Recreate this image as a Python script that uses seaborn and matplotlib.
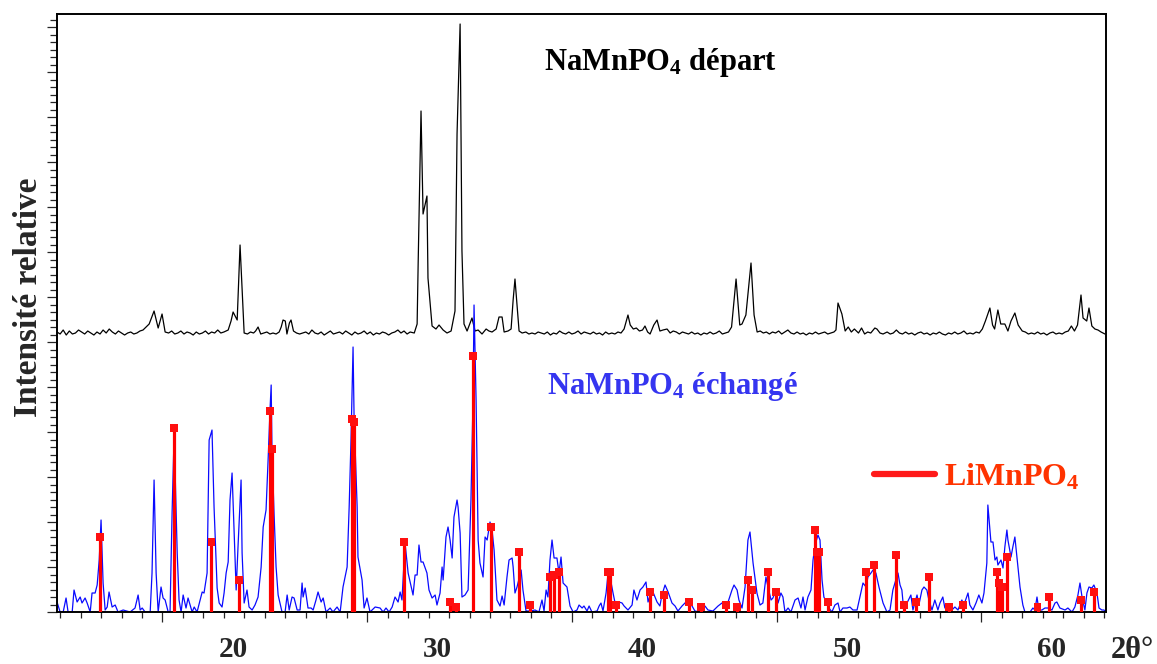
import matplotlib
matplotlib.use("Agg")
import matplotlib.pyplot as plt
from matplotlib.ticker import FixedLocator, MultipleLocator
from matplotlib.lines import Line2D
import numpy as np
import seaborn as sns

# NaMnPO4 départ (black trace), intensity above its own baseline
depart_2theta = [
    11.40, 11.55, 11.70, 11.85, 12.00, 12.15, 12.30, 12.45, 12.60, 12.75, 12.90, 13.05, 13.20, 13.35,
    13.50, 13.65, 13.80, 13.95, 14.10, 14.25, 14.40, 14.55, 14.70, 14.85, 15.00, 15.15, 15.30, 15.45,
    15.60, 15.75, 15.90, 16.14, 16.34, 16.53, 16.68, 16.85, 17.00, 17.15, 17.30, 17.45, 17.60, 17.75,
    17.90, 18.05, 18.20, 18.35, 18.50, 18.65, 18.80, 18.95, 19.10, 19.25, 19.40, 19.55, 19.76, 19.90,
    20.00, 20.20, 20.34, 20.54, 20.70, 20.85, 21.00, 21.10, 21.22, 21.35, 21.50, 21.65, 21.80, 21.95,
    22.10, 22.25, 22.35, 22.44, 22.55, 22.63, 22.75, 22.83, 22.95, 23.10, 23.25, 23.40, 23.55, 23.70,
    23.85, 24.00, 24.15, 24.30, 24.45, 24.60, 24.75, 24.90, 25.05, 25.20, 25.35, 25.50, 25.65, 25.80,
    25.95, 26.10, 26.25, 26.40, 26.55, 26.70, 26.85, 27.00, 27.15, 27.30, 27.45, 27.60, 27.75, 27.90,
    28.05, 28.20, 28.35, 28.50, 28.65, 28.85, 28.99, 29.04, 29.18, 29.28, 29.47, 29.52, 29.72, 29.91,
    30.06, 30.26, 30.45, 30.65, 30.84, 30.94, 31.09, 31.18, 31.28, 31.43, 31.67, 31.82, 31.97, 32.16,
    32.36, 32.50, 32.65, 32.85, 32.99, 33.14, 33.24, 33.43, 33.58, 33.68, 33.77, 33.87, 33.97, 34.12,
    34.30, 34.45, 34.60, 34.75, 34.90, 35.05, 35.20, 35.35, 35.50, 35.65, 35.80, 35.95, 36.10, 36.25,
    36.40, 36.55, 36.70, 36.85, 37.00, 37.15, 37.30, 37.45, 37.60, 37.75, 37.90, 38.05, 38.20, 38.35,
    38.50, 38.65, 38.80, 38.95, 39.10, 39.29, 39.40, 39.55, 39.70, 39.85, 40.00, 40.12, 40.25, 40.37,
    40.55, 40.71, 40.85, 41.00, 41.20, 41.35, 41.50, 41.65, 41.80, 41.95, 42.10, 42.25, 42.40, 42.55,
    42.70, 42.85, 43.00, 43.15, 43.30, 43.45, 43.60, 43.75, 43.90, 44.05, 44.20, 44.35, 44.57, 44.75,
    44.86, 45.05, 45.30, 45.45, 45.60, 45.75, 45.90, 46.05, 46.20, 46.35, 46.50, 46.65, 46.80, 46.95,
    47.10, 47.25, 47.40, 47.55, 47.70, 47.85, 48.00, 48.15, 48.30, 48.45, 48.60, 48.75, 48.90, 49.05,
    49.20, 49.35, 49.45, 49.55, 49.74, 49.90, 50.05, 50.20, 50.35, 50.55, 50.70, 50.85, 51.00, 51.15,
    51.35, 51.45, 51.60, 51.75, 51.95, 52.10, 52.25, 52.40, 52.55, 52.70, 52.85, 53.00, 53.15, 53.30,
    53.45, 53.60, 53.75, 53.90, 54.05, 54.20, 54.35, 54.50, 54.65, 54.80, 54.95, 55.10, 55.25, 55.40,
    55.55, 55.70, 55.85, 56.00, 56.15, 56.30, 56.45, 56.60, 56.75, 56.97, 57.10, 57.20, 57.36, 57.50,
    57.70, 57.85, 58.00, 58.19, 58.35, 58.55, 58.70, 58.85, 59.00, 59.15, 59.30, 59.45, 59.60, 59.75,
    59.90, 60.05, 60.20, 60.35, 60.50, 60.65, 60.80, 60.95, 61.10, 61.25, 61.42, 61.52, 61.70, 61.81,
    61.95, 62.10, 62.25, 62.40, 62.59,
]
depart_int = [
    3, 1, 5, 0, 4, 1, 2, 5, 3, 1, 4, 2, 0, 3,
    1, 5, 2, 6, 3, 1, 4, 2, 0, 2, 3, 1, 2, 4,
    5, 8, 11, 24, 7, 21, 3, 2, 4, 1, 2, 4, 1, 3,
    2, 0, 3, 1, 2, 4, 1, 3, 2, 5, 2, 3, 5, 14,
    23, 15, 90, 2, 1, 3, 2, 4, 8, 1, 2, 3, 1, 2,
    1, 3, 8, 15, 14, 1, 12, 15, 4, 2, 1, 2, 3, 1,
    5, 2, 1, 3, 0, 2, 4, 1, 2, 3, 1, 4, 2, 0,
    3, 1, 2, 4, 1, 3, 0, 2, 1, 3, 2, 0, 2, 3,
    5, 2, 4, 1, 3, 2, 11, 71, 224, 121, 139, 57, 9, 6,
    10, 5, 2, 4, 24, 201, 311, 84, 11, 4, 17, 4, 5, 1,
    6, 4, 3, 6, 18, 18, 3, 4, 6, 35, 56, 30, 4, 2,
    3, 1, 2, 1, 3, 2, 1, 3, 0, 2, 1, 4, 2, 1,
    3, 1, 2, 4, 1, 3, 2, 1, 3, 1, 2, 0, 3, 1,
    2, 1, 3, 2, 6, 20, 10, 6, 7, 4, 5, 9, 3, 1,
    10, 15, 4, 5, 6, 2, 4, 3, 1, 3, 2, 1, 3, 1,
    2, 0, 2, 1, 3, 1, 2, 4, 1, 2, 3, 8, 56, 10,
    11, 20, 72, 20, 3, 4, 2, 3, 1, 3, 2, 4, 1, 3,
    5, 2, 1, 3, 1, 2, 0, 2, 1, 3, 1, 2, 3, 1,
    2, 3, 5, 32, 21, 4, 8, 3, 6, 2, 7, 1, 3, 2,
    7, 6, 2, 1, 3, 1, 2, 5, 2, 1, 3, 1, 2, 0,
    2, 3, 1, 2, 0, 2, 1, 3, 1, 0, 2, 1, 3, 1,
    2, 4, 1, 2, 1, 3, 2, 6, 14, 27, 10, 6, 25, 11,
    11, 4, 14, 22, 10, 4, 3, 1, 2, 1, 3, 1, 2, 0,
    2, 3, 1, 2, 1, 3, 4, 9, 4, 10, 40, 17, 14, 27,
    9, 6, 5, 3, 1,
]
depart_offset = 277

# NaMnPO4 échangé (blue trace)
echange_2theta = [
    11.40, 11.55, 11.70, 11.84, 11.94, 12.14, 12.23, 12.38, 12.53, 12.62, 12.77, 12.87, 13.02, 13.11,
    13.26, 13.36, 13.46, 13.55, 13.65, 13.75, 13.85, 13.94, 14.09, 14.24, 14.38, 14.63, 14.97, 15.21,
    15.36, 15.46, 15.56, 15.70, 15.95, 16.04, 16.14, 16.24, 16.34, 16.48, 16.58, 16.68, 16.83, 16.92,
    17.02, 17.12, 17.22, 17.27, 17.36, 17.46, 17.56, 17.70, 17.80, 18.00, 18.10, 18.24, 18.49, 18.58,
    18.73, 18.83, 18.97, 19.07, 19.22, 19.32, 19.46, 19.56, 19.66, 19.76, 19.85, 19.95, 20.05, 20.15,
    20.24, 20.39, 20.44, 20.54, 20.68, 20.78, 20.93, 21.07, 21.22, 21.37, 21.47, 21.61, 21.71, 21.81,
    21.86, 21.90, 22.00, 22.10, 22.20, 22.39, 22.54, 22.64, 22.74, 22.88, 22.98, 23.13, 23.27, 23.37,
    23.42, 23.52, 23.66, 23.81, 23.91, 24.05, 24.15, 24.30, 24.40, 24.54, 24.74, 24.88, 25.08, 25.23,
    25.37, 25.57, 25.67, 25.76, 25.86, 25.91, 26.06, 26.10, 26.30, 26.40, 26.54, 26.69, 26.94, 27.18,
    27.33, 27.47, 27.62, 27.77, 27.91, 28.06, 28.16, 28.25, 28.40, 28.55, 28.79, 28.89, 28.99, 29.08,
    29.18, 29.28, 29.47, 29.57, 29.72, 29.87, 29.96, 30.11, 30.21, 30.26, 30.40, 30.50, 30.60, 30.70,
    30.79, 30.94, 30.99, 31.09, 31.18, 31.33, 31.48, 31.62, 31.72, 31.77, 31.87, 31.97, 32.06, 32.21,
    32.31, 32.41, 32.55, 32.65, 32.75, 32.89, 33.04, 33.14, 33.24, 33.38, 33.48, 33.63, 33.68, 33.77,
    33.87, 34.07, 34.16, 34.31, 34.51, 34.75, 34.94, 35.09, 35.19, 35.29, 35.38, 35.48, 35.58, 35.68,
    35.82, 35.92, 36.02, 36.12, 36.31, 36.46, 36.61, 36.80, 36.90, 37.05, 37.14, 37.29, 37.39, 37.53,
    37.78, 37.88, 37.97, 38.07, 38.22, 38.32, 38.46, 38.56, 38.71, 38.85, 39.00, 39.10, 39.29, 39.49,
    39.58, 39.73, 39.88, 40.02, 40.17, 40.27, 40.41, 40.51, 40.71, 40.85, 40.95, 41.10, 41.25, 41.44,
    41.59, 41.73, 41.93, 42.12, 42.22, 42.42, 42.56, 42.81, 43.05, 43.20, 43.44, 43.69, 43.88, 44.03,
    44.18, 44.37, 44.47, 44.62, 44.71, 44.86, 45.01, 45.15, 45.25, 45.40, 45.59, 45.74, 45.88, 46.03,
    46.13, 46.28, 46.37, 46.52, 46.62, 46.76, 46.86, 46.96, 47.11, 47.25, 47.45, 47.60, 47.74, 47.84,
    47.94, 48.08, 48.23, 48.33, 48.43, 48.57, 48.67, 48.77, 48.86, 49.01, 49.11, 49.25, 49.40, 49.55,
    49.65, 49.79, 49.99, 50.13, 50.28, 50.48, 50.62, 50.77, 50.92, 51.01, 51.16, 51.26, 51.40, 51.55,
    51.75, 51.94, 52.09, 52.23, 52.33, 52.48, 52.58, 52.67, 52.77, 52.92, 53.11, 53.21, 53.41, 53.50,
    53.65, 53.75, 53.89, 53.99, 54.14, 54.28, 54.43, 54.53, 54.67, 54.77, 54.92, 55.11, 55.26, 55.41,
    55.60, 55.70, 55.90, 55.99, 56.14, 56.29, 56.43, 56.58, 56.68, 56.82, 56.87, 57.02, 57.12, 57.22,
    57.31, 57.36, 57.51, 57.61, 57.70, 57.80, 57.85, 58.00, 58.09, 58.19, 58.29, 58.44, 58.58, 58.68,
    58.93, 59.07, 59.17, 59.27, 59.36, 59.51, 59.66, 59.80, 60.00, 60.15, 60.24, 60.39, 60.64, 60.78,
    60.98, 61.12, 61.27, 61.37, 61.47, 61.61, 61.71, 61.81, 61.95, 62.05, 62.20, 62.30, 62.44, 62.54,
    62.64,
]
echange_int = [
    10, 0, 0, 14, 0, 0, 22, 10, 15, 9, 14, 9, 0, 19,
    19, 27, 52, 92, 29, 2, 5, 20, 5, 7, 0, 2, 0, 4,
    17, 2, 4, 0, 0, 39, 132, 39, 0, 25, 14, 12, 0, 0,
    99, 178, 100, 59, 12, 0, 17, 4, 14, 0, 5, 0, 20, 19,
    39, 172, 182, 105, 24, 9, 5, 19, 39, 50, 112, 139, 79, 22,
    65, 132, 59, 9, 22, 5, 2, 7, 15, 45, 85, 102, 152, 205,
    227, 162, 99, 45, 17, 0, 0, 17, 2, 15, 14, 2, 2, 29,
    15, 24, 4, 4, 2, 12, 20, 10, 14, 0, 4, 0, 5, 0,
    25, 45, 105, 172, 265, 195, 105, 55, 32, 4, 14, 0, 5, 4,
    0, 4, 0, 5, 15, 10, 20, 12, 69, 39, 17, 37, 37, 67,
    50, 50, 39, 22, 14, 17, 7, 19, 45, 32, 75, 85, 72, 54,
    95, 112, 105, 79, 15, 17, 22, 112, 212, 307, 212, 72, 49, 35,
    75, 72, 90, 82, 62, 12, 6, 16, 7, 35, 52, 54, 45, 19,
    25, 42, 22, 1, 1, 2, 0, 12, 1, 22, 15, 52, 72, 54,
    54, 39, 55, 29, 25, 6, 0, 2, 7, 4, 6, 1, 6, 0,
    1, 6, 9, 1, 19, 39, 30, 19, 4, 10, 9, 6, 2, 7,
    22, 12, 22, 25, 30, 10, 19, 20, 10, 6, 17, 27, 20, 9,
    6, 1, 6, 10, 12, 6, 1, 0, 6, 2, 1, 6, 9, 4,
    10, 22, 27, 22, 12, 4, 25, 72, 80, 49, 19, 7, 9, 35,
    25, 12, 14, 22, 9, 19, 15, 0, 4, 0, 12, 14, 4, 15,
    2, 15, 22, 52, 67, 77, 72, 32, 15, 9, 4, 0, 7, 9,
    0, 4, 4, 5, 2, 2, 15, 29, 25, 35, 39, 42, 39, 25,
    9, 0, 2, 22, 29, 39, 27, 22, 0, 9, 17, 2, 17, 7,
    22, 25, 22, 12, 2, 12, 2, 9, 15, 4, 7, 2, 5, 2,
    12, 7, 19, 7, 2, 9, 17, 9, 19, 49, 107, 70, 70, 52,
    55, 47, 52, 44, 65, 82, 72, 55, 65, 75, 55, 25, 7, 0,
    0, 4, 2, 15, 2, 2, 4, 4, 2, 9, 10, 4, 2, 4,
    0, 5, 17, 29, 15, 2, 19, 25, 24, 27, 19, 4, 2, 2,
    0,
]

# LiMnPO4 reference lines (red sticks)
limnpo4_2theta = [
    13.50, 17.12, 18.93, 20.29, 21.81, 21.90, 25.81, 25.91, 28.35, 30.60, 30.89, 31.72, 32.60,
    33.97, 34.51, 35.48, 35.68, 35.92, 38.32, 38.41, 38.71, 40.37, 41.05, 42.27, 42.86, 44.08,
    44.62, 45.15, 45.35, 46.13, 46.52, 48.43, 48.53, 48.62, 49.06, 50.92, 51.31, 52.38, 52.77,
    53.36, 53.99, 54.97, 55.65, 57.31, 57.41, 57.56, 57.80, 59.31, 59.85, 61.42, 62.05,
]
limnpo4_int = [
    75, 184, 70, 32, 201, 163, 193, 190, 70, 10, 5, 256, 85,
    60, 7, 35, 37, 40, 40, 40, 7, 20, 17, 10, 5, 7,
    5, 32, 22, 40, 20, 82, 60, 60, 10, 40, 47, 57, 7,
    10, 35, 5, 7, 40, 29, 25, 55, 5, 15, 12, 20,
]

xtick_labels = [20, 30, 40, 50, 60]

sns.set_style("ticks")
plt.rcParams['font.family'] = ['Liberation Serif', 'DejaVu Serif']
plt.rcParams['mathtext.fontset'] = 'custom'
plt.rcParams['mathtext.rm'] = 'Liberation Serif:bold'
plt.rcParams['mathtext.it'] = 'Liberation Serif:bold'
plt.rcParams['mathtext.bf'] = 'Liberation Serif:bold'

fig = plt.figure(figsize=(11.57, 6.64), dpi=100)
ax = fig.add_axes([0.0493, 0.0783, 0.9066, 0.9006])

sns.lineplot(x=depart_2theta, y=np.array(depart_int) + depart_offset, ax=ax,
             color='black', lw=0.9, estimator=None, sort=False)
sns.lineplot(x=echange_2theta, y=echange_int, ax=ax,
             color='#0a0aff', lw=0.9, estimator=None, sort=False)
ax.vlines(limnpo4_2theta, 0, limnpo4_int, color='#ff0000', lw=2.3, zorder=4)
sns.scatterplot(x=limnpo4_2theta, y=limnpo4_int, ax=ax, marker='s', s=28,
                color='#ff1010', edgecolor='none', zorder=5)

ax.set_xlim(11.4, 62.64)
ax.set_ylim(0, 598)

# ticks
ax.xaxis.set_major_locator(FixedLocator(np.arange(16.55, 62, 10)))
ax.xaxis.set_minor_locator(FixedLocator(np.arange(11.55, 62.6, 1.0)))
ax.yaxis.set_major_locator(MultipleLocator(45))
ax.yaxis.set_minor_locator(MultipleLocator(7.5))
ax.tick_params(axis='x', which='major', direction='out', length=7.5, width=0.9,
               labelbottom=False, top=False)
ax.tick_params(axis='x', which='minor', direction='out', length=4, width=0.9, top=False)
ax.tick_params(axis='y', which='major', direction='out', length=7.5, width=0.9,
               labelleft=False, right=False)
ax.tick_params(axis='y', which='minor', direction='out', length=5, width=0.9, right=False)
for sp in ax.spines.values():
    sp.set_visible(True)
    sp.set_linewidth(1.4)
    sp.set_color('black')

for v in xtick_labels:
    ax.text(v, -0.062, str(v), transform=ax.get_xaxis_transform(), ha='center',
            va='center', fontsize=21, fontweight='bold')
ax.text(63.95, -0.064, "2θ°", transform=ax.get_xaxis_transform(), ha='center',
        va='center', fontsize=22, fontweight='bold')

fig.text(0.025, 0.553, "Intensité relative", rotation=90, ha='center', va='center',
         fontsize=24, fontweight='bold')

ax.text(40.9, 550, "NaMnPO$_4$ départ", ha='center', va='center',
        fontsize=22, fontweight='bold', color='black')
ax.text(41.44, 226, "NaMnPO$_4$ échangé", ha='center', va='center',
        fontsize=22, fontweight='bold', color='#3535f0')

handles = [Line2D([], [], color='#ff1a1a', lw=4.5)]
ax.legend(handles, ['LiMnPO$_4$'], loc='center left', bbox_to_anchor=(0.779, 0.226),
          frameon=False, handlelength=1.9, handletextpad=0.3, borderpad=0,
          borderaxespad=0, prop={'weight': 'bold', 'size': 23}, labelcolor='#ff3300')

fig.savefig("out.png", dpi=100)
